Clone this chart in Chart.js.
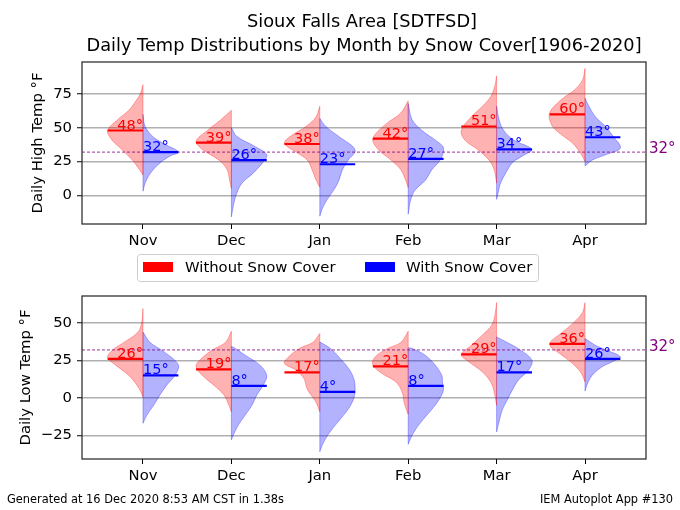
<!DOCTYPE html>
<html><head><meta charset="utf-8">
<script src="https://cdn.jsdelivr.net/npm/chart.js@4"></script>
<style>
html,body{margin:0;padding:0;background:#fff;}
#wrap{position:relative;width:680px;height:510px;}
canvas{position:absolute;left:0;top:0;}
</style></head><body>
<div id="wrap"><canvas id="c1" width="680" height="510"></canvas><canvas id="c2" width="680" height="510"></canvas></div>
<script>
// ---------- data ----------
const months = ['Nov','Dec','Jan','Feb','Mar','Apr'];
const highNoSnowMean = [48,39,38,42,51,60];
const highSnowMean   = [32,26,23,27,34,43];
const lowNoSnowMean  = [26,19,17,21,29,36];
const lowSnowMean    = [15,8,4,8,17,26];
const freezing = 32;
const highTicks = [0,25,50,75];
const lowTicks  = [-25,0,25,50];
// violin outlines: [temperature, relative width]
const highNoSnowShape = [
  [[15,0],[19,0.1],[26,0.3],[34,0.6],[41,0.88],[48,1.0],[56,0.72],[63,0.4],[70,0.2],[75,0.08],[82,0]],
  [[5,0],[11,0.05],[19,0.12],[26,0.35],[34,0.82],[40,1.0],[48,0.68],[56,0.3],[63,0]],
  [[6,0],[11,0.1],[19,0.22],[26,0.35],[32,0.67],[38.6,1.0],[45,0.76],[51,0.39],[58,0.11],[66,0]],
  [[5.7,0],[11,0.07],[19,0.21],[26,0.48],[34,0.85],[42,1.0],[53,0.62],[61,0.21],[70,0]],
  [[9,0],[19,0.07],[26,0.21],[34,0.54],[41,0.9],[48,1.0],[58,0.72],[66,0.4],[73,0.17],[81,0.05],[88.5,0]],
  [[25,0],[31,0.12],[38.6,0.35],[46,0.72],[52,0.94],[61,1.0],[71,0.67],[78,0.3],[85.5,0.07],[94,0]]
];
const highSnowShape = [
  [[3,0],[9,0.06],[16,0.2],[24,0.48],[29,0.76],[32,1.0],[37,0.68],[43,0.3],[51,0.06],[60,0]],
  [[-16,0],[-6,0.07],[1.5,0.15],[9,0.3],[16,0.6],[24,0.88],[30,1.0],[36,0.68],[43.5,0.16],[50,0]],
  [[-15.5,0],[-10,0.07],[-3.5,0.2],[4,0.4],[11,0.54],[19,0.64],[26,0.8],[33.6,1.0],[43.5,0.54],[51,0.17],[57,0]],
  [[-14,0],[-3.5,0.07],[4,0.2],[11,0.48],[19,0.67],[26,0.9],[35,1.0],[41,0.76],[48,0.39],[56,0.11],[68,0]],
  [[-3,0],[1.5,0.04],[9,0.11],[16,0.25],[24,0.44],[29,0.72],[34,1.0],[41,0.48],[48,0.2],[56,0.07],[66,0]],
  [[21.7,0],[26,0.2],[30,0.58],[35,1.0],[43.5,0.8],[51,0.58],[58,0.3],[66,0.11],[72,0]]
];
const lowNoSnowShape = [
  [[0.7,0],[4,0.06],[8.5,0.17],[15,0.4],[22,0.78],[27,1.0],[32,0.86],[37,0.54],[44,0.14],[51,0.03],[59.6,0]],
  [[-9.3,0],[-5,0.07],[2,0.21],[8.5,0.5],[15,0.82],[21,1.0],[26,0.86],[32,0.54],[37,0.17],[44.5,0]],
  [[-9.3,0],[-2.7,0.11],[2,0.25],[6,0.36],[13,0.45],[18.5,0.67],[23,1.0],[27,0.9],[33,0.58],[37,0.2],[43,0]],
  [[-11,0],[-8,0.05],[-2.7,0.12],[4,0.17],[10.7,0.35],[16,0.72],[22,1.0],[27,0.95],[33,0.58],[37,0.21],[44.5,0]],
  [[-5,0],[4,0.07],[10.7,0.17],[17.3,0.4],[24,0.78],[29,1.0],[35,0.72],[42,0.4],[48.5,0.14],[55,0.05],[63.6,0]],
  [[10.7,0],[17,0.12],[24,0.4],[29.6,0.72],[36,1.0],[44,0.63],[50.7,0.3],[57,0.07],[63.6,0]]
];
const lowSnowShape = [
  [[-17,0],[-11.5,0.11],[-5,0.3],[2,0.48],[8.5,0.67],[15,0.9],[22,1.0],[31,0.58],[37,0.2],[44,0]],
  [[-28,0],[-24,0.07],[-18,0.2],[-11.5,0.39],[-5,0.58],[2,0.72],[8.5,0.9],[15,1.0],[22,0.8],[28.5,0.39],[33,0.11],[34.5,0]],
  [[-36,0],[-32.6,0.05],[-27,0.17],[-20.5,0.36],[-14,0.59],[-7,0.82],[-0.4,0.96],[6,1.0],[13,0.96],[19.5,0.82],[26,0.59],[33,0.3],[37.3,0]],
  [[-31,0],[-25,0.11],[-18,0.3],[-11.5,0.53],[-5,0.76],[2,0.95],[6,1.0],[10,0.97],[15,0.95],[22,0.76],[28.5,0.48],[33,0.11],[33.5,0]],
  [[-22.7,0],[-16,0.07],[-8,0.16],[-1.5,0.3],[5,0.44],[12,0.62],[18.5,0.9],[25,1.0],[32,0.67],[37,0.3],[40.7,0]],
  [[4.5,0],[9.5,0.07],[15,0.2],[20.7,0.48],[24,0.76],[27.3,1.0],[31.8,0.62],[35,0.3],[39.6,0]]
];

// ---------- styling / layout ----------
const FONT = '"DejaVu Sans", sans-serif';
const MED = 14.8;
const HALF = 0.4;
const X_MIN = -0.69, X_MAX = 5.69;
const RED = '255,0,0', BLUE = '0,0,255';

function violinSets(shapes, side, rgb) {
  const out = [];
  shapes.forEach((shape, i) => {
    out.push({data: shape.map(([t, w]) => ({x: i + side * w * HALF, y: t})),
      fill: 'shape', backgroundColor: `rgba(${rgb},0.3)`, borderColor: `rgba(${rgb},0.3)`,
      borderWidth: 1, pointRadius: 0, tension: 0.35, order: 5});
    out.push({data: [{x: i, y: shape[0][0]}, {x: i, y: shape[shape.length - 1][0]}],
      fill: false, borderColor: `rgba(${rgb},0.3)`, borderWidth: 1, pointRadius: 0, order: 5});
  });
  return out;
}
function meanSets(means, side, color) {
  return means.map((m, i) => ({data: [{x: i, y: m}, {x: i + side * HALF, y: m}],
    fill: false, borderColor: color, borderWidth: 2.2, pointRadius: 0, order: 1}));
}
function freezeSet() {
  return {data: [{x: X_MIN, y: freezing}, {x: X_MAX, y: freezing}], fill: false,
    borderColor: '#800080', borderWidth: 0.8, borderDash: [3, 2], pointRadius: 0, order: 3};
}
const fmt = v => v < 0 ? '\u2212' + Math.abs(v) : String(v);

function scalesFor(yMin, yMax, yTicks, yTitle, yWidth) {
  return {
    x: {type: 'linear', min: X_MIN, max: X_MAX,
      afterBuildTicks: s => { s.ticks = months.map((_, i) => ({value: i})); },
      ticks: {callback: v => months[v] ?? '', color: '#000', font: {family: FONT, size: MED}, padding: 3, maxRotation: 0, autoSkip: false},
      grid: {drawOnChartArea: false, drawTicks: true, tickLength: 5, tickColor: '#000', tickWidth: 1},
      border: {display: false},
      afterFit: s => { s.height = 26; }},
    y: {type: 'linear', min: yMin, max: yMax,
      afterBuildTicks: s => { s.ticks = yTicks.map(v => ({value: v})); },
      ticks: {callback: v => fmt(v), color: '#000', font: {family: FONT, size: MED}, padding: 5, autoSkip: false},
      grid: {color: '#b0b0b0', lineWidth: 1.5, drawTicks: true, tickLength: 5, tickColor: '#000', tickWidth: 1},
      border: {display: false},
      title: {display: true, text: yTitle, color: '#000', font: {family: FONT, size: MED}, padding: {top: 4, bottom: 4}},
      afterFit: s => { s.width = yWidth; }}
  };
}

function annotatePlugin(noSnow, snow) {
  return {id: 'annot', afterDatasetsDraw(chart) {
    const {ctx, chartArea: a, scales: {x, y}} = chart;
    ctx.save();
    ctx.font = `14.5px ${FONT}`;
    ctx.textBaseline = 'alphabetic';
    noSnow.forEach((m, i) => {
      ctx.fillStyle = '#ff0000'; ctx.textAlign = 'right';
      ctx.fillText(m + '°', x.getPixelForValue(i), y.getPixelForValue(m) - 1);
    });
    snow.forEach((m, i) => {
      ctx.fillStyle = '#0000ff'; ctx.textAlign = 'left';
      ctx.fillText(m + '°', x.getPixelForValue(i), y.getPixelForValue(m) - 1);
    });
    ctx.fillStyle = '#800080'; ctx.textAlign = 'left'; ctx.textBaseline = 'middle';
    ctx.font = `15px ${FONT}`;
    ctx.fillText(freezing + '°', a.right + 3, y.getPixelForValue(freezing) - 3);
    ctx.strokeStyle = '#222'; ctx.lineWidth = 1.2;
    ctx.strokeRect(a.left, a.top, a.right - a.left, a.bottom - a.top);
    ctx.restore();
  }};
}

const decorPlugin = {id: 'decor', afterDraw(chart) {
  const ctx = chart.ctx;
  ctx.save();
  ctx.fillStyle = '#000'; ctx.textAlign = 'center'; ctx.textBaseline = 'middle';
  ctx.font = `17.8px ${FONT}`;
  ctx.fillText('Sioux Falls Area [SDTFSD]', 362, 22);
  ctx.fillText('Daily Temp Distributions by Month by Snow Cover[1906-2020]', 364, 46);
  // legend
  ctx.beginPath();
  ctx.roundRect(137.5, 254.5, 401, 27, 3);
  ctx.fillStyle = 'rgba(255,255,255,0.8)'; ctx.fill();
  ctx.strokeStyle = '#cccccc'; ctx.lineWidth = 1; ctx.stroke();
  ctx.fillStyle = '#ff0000'; ctx.fillRect(143, 262, 30, 10);
  ctx.fillStyle = '#0000ff'; ctx.fillRect(365, 262, 30, 10);
  ctx.fillStyle = '#000'; ctx.textAlign = 'left'; ctx.font = `${MED}px ${FONT}`;
  ctx.fillText('Without Snow Cover', 185, 268);
  ctx.fillText('With Snow Cover', 406, 268);
  // footer
  ctx.font = `11.4px ${FONT}`;
  ctx.fillText('Generated at 16 Dec 2020 8:53 AM CST in 1.38s', 7, 500);
  ctx.textAlign = 'right';
  ctx.fillText('IEM Autoplot App #130', 673, 500);
  ctx.restore();
}};

function makeChart(id, datasets, scales, padding, plugins) {
  return new Chart(document.getElementById(id), {
    type: 'line',
    data: {datasets},
    options: {
      responsive: false, animation: false, devicePixelRatio: 1, events: [],
      layout: {padding},
      plugins: {legend: {display: false}, tooltip: {enabled: false}, title: {display: false}},
      scales
    },
    plugins
  });
}

makeChart('c1',
  [...meanSets(highNoSnowMean, -1, '#ff0000'), ...meanSets(highSnowMean, 1, '#0000ff'), freezeSet(),
   ...violinSets(highNoSnowShape, -1, RED), ...violinSets(highSnowShape, 1, BLUE)],
  scalesFor(-21.3, 98.8, highTicks, 'Daily High Temp °F', 82 - 25),
  {left: 25, right: 34, top: 62, bottom: 260},
  [annotatePlugin(highNoSnowMean, highSnowMean), decorPlugin]);

makeChart('c2',
  [...meanSets(lowNoSnowMean, -1, '#ff0000'), ...meanSets(lowSnowMean, 1, '#0000ff'), freezeSet(),
   ...violinSets(lowNoSnowShape, -1, RED), ...violinSets(lowSnowShape, 1, BLUE)],
  scalesFor(-40.8, 68, lowTicks, 'Daily Low Temp °F', 82 - 13),
  {left: 13, right: 34, top: 296, bottom: 25},
  [annotatePlugin(lowNoSnowMean, lowSnowMean)]);
</script>
</body></html>
